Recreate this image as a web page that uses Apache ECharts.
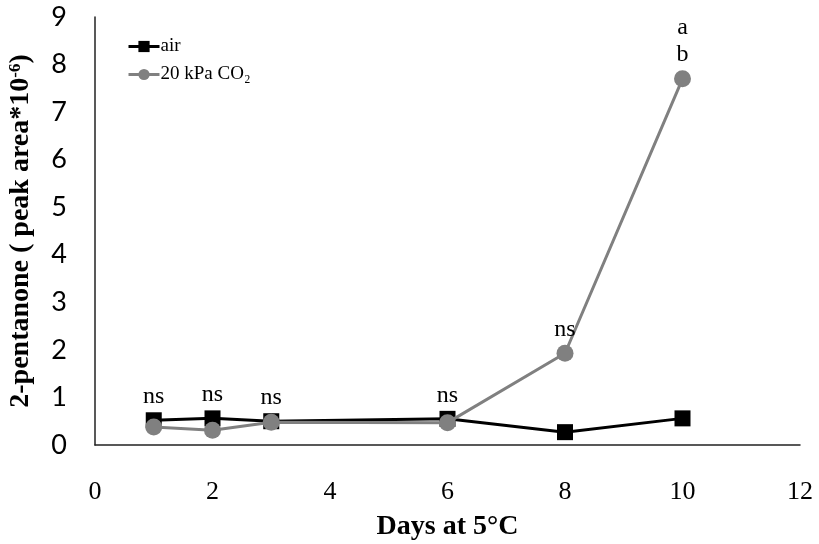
<!DOCTYPE html>
<html>
<head>
<meta charset="utf-8">
<script src="https://cdn.jsdelivr.net/npm/echarts@6/dist/echarts.min.js"></script>
<style>html,body{margin:0;padding:0;background:#fff}#chart{width:819px;height:544px}</style>
</head>
<body>
<div id="chart"></div>
<script>
var days = [1, 2, 3, 6, 8, 10];
var airValues = [0.52, 0.56, 0.50, 0.55, 0.27, 0.56];
var co2Values = [0.38, 0.31, 0.48, 0.47, 1.93, 7.70];
var airLabels = ['ns', 'ns', 'ns', 'ns', '', ''];
var co2Labels = ['', '', '', '', 'ns', 'a\nb'];
var seriesNames = ['air', '20 kPa CO\u2082'];
var xTitle = 'Days at 5\u00B0C';

function buildData(vals, labels) {
  return days.map(function (d, i) {
    var item = { value: [d, vals[i]] };
    if (labels[i]) {
      item.label = { show: true, formatter: labels[i] };
    }
    return item;
  });
}

var labelStyle = {
  position: 'top',
  distance: 2,
  fontFamily: 'Liberation Serif, Times New Roman, serif',
  fontSize: 24,
  lineHeight: 27,
  color: '#000'
};

var chart = echarts.init(document.getElementById('chart'), null, { renderer: 'canvas' });
chart.setOption({
  animation: false,
  backgroundColor: '#fff',
  grid: { left: 95, right: 19, top: 17, bottom: 99, containLabel: false, outerBoundsMode: 'none' },
  legend: {
    orient: 'vertical',
    left: 122,
    top: 32,
    itemWidth: 31,
    itemHeight: 14,
    itemGap: 9,
    data: seriesNames,
    lineStyle: { width: 3 },
    textStyle: { fontFamily: 'Liberation Serif, Times New Roman, serif', fontSize: 19, color: '#000', padding: [0, 0, 0, -4] }
  },
  xAxis: {
    type: 'value',
    min: 0, max: 12, interval: 2,
    name: xTitle,
    nameLocation: 'middle',
    nameGap: 68,
    nameTextStyle: { fontFamily: 'Liberation Serif, Times New Roman, serif', fontWeight: 'bold', fontSize: 28, color: '#000' },
    axisLine: { show: true, lineStyle: { color: '#222', width: 1.5 } },
    axisTick: { show: false },
    splitLine: { show: false },
    axisLabel: { margin: 34, fontFamily: 'Liberation Serif, Times New Roman, serif', fontSize: 26, color: '#000' }
  },
  yAxis: {
    type: 'value',
    min: 0, max: 9, interval: 1,
    name: '{b|2-pentanone ( peak area*10}{s|-6}{b|)}',
    nameLocation: 'middle',
    nameRotate: 90,
    nameGap: 60,
    nameTextStyle: {
      rich: {
        b: { fontFamily: 'Liberation Serif, Times New Roman, serif', fontWeight: 'bold', fontSize: 28, color: '#000' },
        s: { fontFamily: 'Liberation Serif, Times New Roman, serif', fontWeight: 'bold', fontSize: 17, color: '#000', verticalAlign: 'top', padding: [0, 0, 10, 0] }
      }
    },
    axisLine: { show: true, lineStyle: { color: '#222', width: 1.5 } },
    axisTick: { show: false },
    splitLine: { show: false },
    axisLabel: { margin: 28, fontFamily: 'Lato, Liberation Sans, sans-serif', fontSize: 27, color: '#000' }
  },
  series: [
    {
      name: seriesNames[0],
      type: 'line',
      data: buildData(airValues, airLabels),
      symbol: 'rect',
      symbolSize: 16,
      lineStyle: { color: '#000', width: 3 },
      itemStyle: { color: '#000' },
      label: labelStyle,
      z: 2
    },
    {
      name: seriesNames[1],
      type: 'line',
      data: buildData(co2Values, co2Labels),
      symbol: 'circle',
      symbolSize: 17,
      lineStyle: { color: '#808080', width: 3 },
      itemStyle: { color: '#808080' },
      label: labelStyle,
      z: 3
    }
  ]
});
</script>
</body>
</html>
